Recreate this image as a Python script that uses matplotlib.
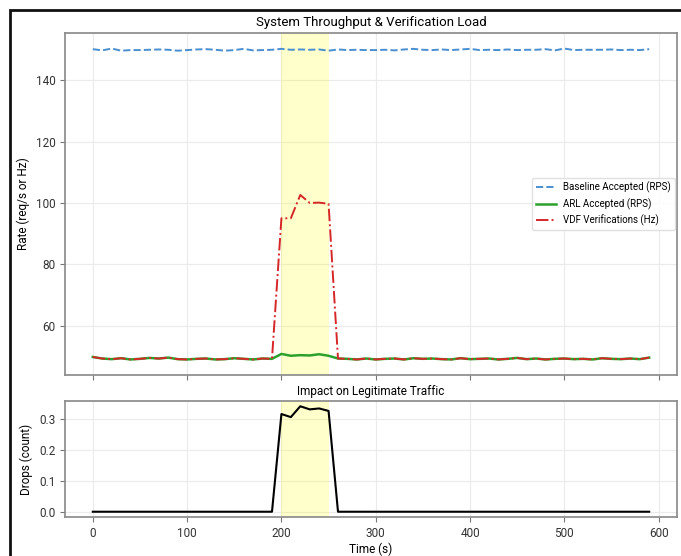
import numpy as np
import matplotlib.pyplot as plt
from matplotlib.patches import Rectangle

plt.rcParams['font.family'] = ['Roboto', 'DejaVu Sans']

# time axis (s)
t = list(range(0, 600, 10))

baseline = [150.1, 149.7, 150.3, 149.6, 149.8, 149.8, 149.9, 150.0, 149.9, 149.6,
            149.8, 150.0, 150.1, 149.9, 149.6, 149.8, 150.2, 149.7, 149.8, 149.9,
            150.2, 149.9, 150.0, 149.9, 150.0, 149.6, 150.0, 149.8, 149.9, 149.8,
            149.8, 149.9, 149.7, 150.0, 150.2, 149.9, 149.8, 150.0, 149.8, 150.0,
            150.2, 149.8, 149.9, 149.8, 150.0, 149.8, 149.9, 149.9, 150.1, 149.7,
            150.3, 149.8, 149.9, 149.9, 149.9, 150.0, 149.8, 149.9, 149.8, 150.1]

arl = [49.8, 49.3, 49.1, 49.4, 49.0, 49.2, 49.5, 49.3, 49.6, 49.1,
       49.0, 49.2, 49.3, 49.0, 49.1, 49.4, 49.2, 49.0, 49.3, 49.2,
       50.8, 50.2, 50.4, 50.3, 50.7, 50.2, 49.3, 49.2, 49.0, 49.3,
       49.0, 49.2, 49.3, 49.0, 49.4, 49.2, 49.3, 49.1, 49.0, 49.4,
       49.1, 49.2, 49.3, 49.0, 49.2, 49.5, 49.1, 49.3, 49.0, 49.2,
       49.3, 49.1, 49.2, 49.0, 49.4, 49.2, 49.1, 49.3, 49.1, 49.6]

vdf = [49.8, 49.3, 49.1, 49.4, 49.0, 49.2, 49.5, 49.3, 49.6, 49.1,
       49.0, 49.2, 49.3, 49.0, 49.1, 49.4, 49.2, 49.0, 49.3, 49.2,
       95.0, 95.0, 102.6, 100.0, 100.1, 99.7, 49.3, 49.2, 49.0, 49.3,
       49.0, 49.2, 49.3, 49.0, 49.4, 49.2, 49.3, 49.1, 49.0, 49.4,
       49.1, 49.2, 49.3, 49.0, 49.2, 49.5, 49.1, 49.3, 49.0, 49.2,
       49.3, 49.1, 49.2, 49.0, 49.4, 49.2, 49.1, 49.3, 49.1, 49.6]

drops = [0.0] * 20 + [0.315, 0.305, 0.340, 0.330, 0.333, 0.325] + [0.0] * 34

attack_start, attack_end = 200, 250

fig = plt.figure(figsize=(6.81, 5.56), dpi=100)
ax1 = fig.add_axes([65 / 681, (556 - 375) / 556, 612 / 681, 342 / 556])
ax2 = fig.add_axes([65 / 681, (556 - 517) / 556, 612 / 681, 116 / 556], sharex=ax1)

for ax in (ax1, ax2):
    ax.axvspan(attack_start, attack_end, color='yellow', alpha=0.2, lw=0)
    ax.grid(True, color='#ebebeb', lw=0.8)
    ax.set_axisbelow(True)
    ax.tick_params(labelsize=8.5, colors='#333333', length=3.5, color='#777777')
    for s in ax.spines.values():
        s.set_color('#888888')
        s.set_linewidth(1.2)

ax1.plot(t, baseline, '--', color='#4a8fd0', lw=1.4, label='Baseline Accepted (RPS)')
ax1.plot(t, arl, '-', color='#2ca02c', lw=1.8, label='ARL Accepted (RPS)')
ax1.plot(t, vdf, '-.', color='#d62728', lw=1.4, label='VDF Verifications (Hz)')
ax1.set_title('System Throughput & Verification Load', fontsize=9.5, pad=5)
ax1.set_ylabel('Rate (req/s or Hz)', fontsize=8.5)
ax1.legend(loc='center right', fontsize=7, framealpha=0.9, edgecolor='#dddddd',
           borderaxespad=0.2)
ax1.tick_params(labelbottom=False)

ax2.plot(t, drops, '-', color='black', lw=1.5)
ax2.set_title('Impact on Legitimate Traffic', fontsize=8.5, pad=4)
ax2.set_ylabel('Drops (count)', fontsize=8.5)
ax2.set_xlabel('Time (s)', fontsize=8.5, labelpad=2)
ax2.set_yticks([0.0, 0.1, 0.2, 0.3])

# dark frame of the screenshot
fig.patches.append(Rectangle((10 / 681, -0.05), 1.1, 1.05 - 10 / 556,
                             transform=fig.transFigure, fill=False,
                             edgecolor='#111111', lw=2))

fig.savefig('out.png', dpi=100)
